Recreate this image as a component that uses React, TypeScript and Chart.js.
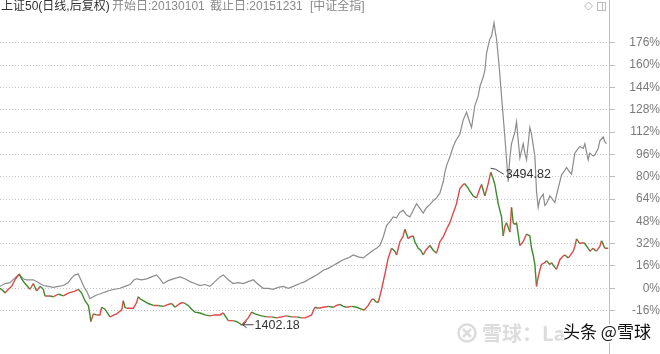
import React, { useEffect, useRef } from "react";
import { Chart, registerables } from "chart.js";

Chart.register(...registerables);

// ---------- text ----------
const TITLE_MAIN = "上证50(日线,后复权)";
const TITLE_START = "开始日:20130101";
const TITLE_END = "截止日:20151231";
const TITLE_CMP = "[中证全指]";
const LOW_LABEL = "1402.18";
const HIGH_LABEL = "3494.82";
const WM_FADED = "雪球：La";
const WM_MAIN = "头条 @雪球";

// ---------- axis ----------
const Y_TICKS = [-16, 0, 16, 32, 48, 64, 80, 96, 112, 128, 144, 160, 176];
const Y_MIN = -35.5;
const Y_MAX = 192.4;
const DAY_MAX = 731;

// ---------- 中证全指 (grey), trading-day index vs % change ----------
const indexDays = [
  0, 6, 12, 18, 23, 28, 32, 40, 46, 52, 58, 64, 70, 76, 82, 86, 90, 94, 97, 101,
  104, 108, 112, 116, 120, 126, 132, 138, 144, 150, 156, 161, 164, 170, 176, 182, 188, 192, 196, 202,
  208, 216, 222, 228, 234, 240, 246, 252, 258, 264, 268, 274, 280, 286, 292, 298, 304, 310, 316, 322,
  328, 334, 340, 346, 352, 360, 366, 372, 376, 382, 388, 394, 400, 406, 412, 418, 424, 430, 436, 442,
  448, 452, 456, 460, 464, 468, 472, 476, 480, 484, 488, 492, 496, 500, 504, 508, 512, 516, 520, 524,
  528, 532, 534, 536, 540, 544, 547, 552, 556, 560, 564, 566, 570, 574, 576, 580, 582, 584, 586, 588,
  590, 593, 595, 596, 599, 602, 606, 610, 612, 614, 618, 620, 624, 628, 630, 632, 636, 638, 642, 644,
  646, 648, 652, 654, 656, 660, 662, 666, 670, 672, 674, 678, 680, 684, 686, 690, 694, 696, 700, 702,
  706, 708, 712, 714, 718, 720, 724, 726, 728,
];
const indexPct = [
  1.4, 3.4, 4.1, 7.5, 10.2, 6.8, 6.1, 6.1, 4.1, 2.0, 1.4, 0.7, 1.4, 2.0, 4.1, 7.5, 9.6, 10.2, 6.1, 0.7,
  -2.0, -7.5, -6.1, -4.8, -4.1, -2.7, -1.4, -0.7, 0, 1.4, 2.7, 6.1, 6.8, 6.1, 6.8, 8.2, 9.6, 6.8, 3.4, 5.5,
  6.8, 8.2, 6.8, 4.8, 3.4, 2.0, 2.7, 1.4, 4.8, 8.2, 9.6, 6.1, 3.4, 4.1, 3.4, 4.8, 6.1, 2.7, 0, 0,
  -0.7, 0.7, 1.4, 0, 1.4, 3.4, 4.8, 6.8, 8.2, 10.2, 13.0, 14.3, 16.4, 18.4, 20.5, 21.8, 23.9, 22.5, 21.8, 24.6,
  27.3, 28.7, 30.7, 36.8, 45.0, 47.8, 51.2, 50.5, 54.6, 55.9, 52.5, 51.2, 55.9, 60.7, 57.3, 53.9, 58.0, 60.0, 62.8, 64.8,
  68.2, 76.4, 83.2, 88.0, 94.2, 101.7, 105.8, 110.5, 120.8, 126.2, 118.7, 115.3, 131.0, 137.8, 144.6, 151.5, 156.2, 168.5, 174.0, 178.8,
  180.8, 190.4, 182.2, 178.8, 160.3, 137.8, 108.5, 76.4, 93.5, 103.7, 111.9, 119.4, 93.5, 103.7, 96.9, 92.1, 115.3, 110.5, 94.8, 69.6,
  58.0, 64.1, 67.5, 59.4, 60.7, 66.2, 64.8, 61.4, 71.6, 76.4, 81.2, 84.6, 86.7, 83.2, 81.9, 96.9, 100.3, 101.7, 100.3, 103.7,
  92.1, 96.9, 94.8, 95.5, 100.3, 105.8, 108.5, 105.1, 103.7,
];

// ---------- 上证50 (red / green), trading-day index vs % change ----------
const sz50Days = [
  0, 4, 6, 10, 14, 18, 23, 26, 30, 36, 40, 44, 48, 52, 54, 60, 64, 70, 76, 82,
  86, 90, 94, 98, 102, 106, 108, 109, 112, 116, 120, 122, 126, 132, 137, 140, 144, 146, 148, 150,
  152, 160, 164, 166, 168, 172, 178, 184, 190, 196, 202, 206, 210, 216, 220, 226, 230, 234, 240, 246,
  252, 258, 264, 268, 271, 274, 280, 284, 288, 290, 294, 298, 302, 306, 310, 314, 320, 326, 332, 338,
  344, 350, 356, 362, 366, 372, 374, 378, 382, 388, 394, 400, 404, 408, 412, 416, 422, 428, 434, 437,
  442, 446, 448, 451, 454, 456, 458, 462, 466, 468, 470, 474, 476, 480, 484, 486, 490, 492, 496, 498,
  502, 505, 508, 511, 516, 520, 524, 528, 532, 536, 540, 544, 546, 548, 552, 556, 558, 562, 564, 568,
  572, 576, 578, 582, 586, 589, 592, 594, 598, 600, 602, 604, 606, 608, 612, 614, 616, 618, 620, 624,
  628, 632, 636, 638, 640, 642, 644, 646, 648, 650, 654, 656, 660, 662, 666, 668, 672, 676, 678, 682,
  684, 688, 690, 692, 696, 700, 702, 706, 708, 712, 714, 716, 720, 722, 726, 730,
];
const sz50Pct = [
  0, -2.0, -3.4, -0.7, 1.4, 6.1, 10.2, 6.8, 3.4, -0.7, 3.4, -2.0, 1.4, -0.7, -5.5, -5.5, -6.1, -4.1, -5.5, -3.4,
  -2.7, -2.0, -0.7, -3.4, -8.9, -12.3, -19.1, -23.9, -18.4, -19.1, -19.1, -13.6, -15.0, -20.5, -19.1, -18.4, -16.4, -15.7, -8.9, -13.6,
  -14.3, -14.3, -10.2, -6.1, -7.5, -8.9, -10.9, -12.3, -12.3, -13.0, -11.6, -10.9, -13.6, -10.9, -10.2, -12.3, -15.0, -17.1, -17.7, -19.1,
  -19.8, -19.1, -19.1, -17.7, -20.5, -23.2, -23.2, -23.9, -25.2, -26.5, -23.9, -21.2, -17.1, -18.4, -19.1, -19.8, -20.5, -20.5, -21.2, -20.5,
  -19.8, -20.5, -20.5, -21.2, -21.2, -19.8, -19.1, -13.6, -14.3, -13.6, -13.0, -13.6, -12.3, -11.6, -13.0, -13.6, -13.0, -13.6, -15.0, -15.7,
  -12.3, -8.2, -7.5, -9.6, -10.2, -5.5, -0.7, 10.2, 21.8, 25.2, 28.7, 26.6, 23.9, 33.4, 37.5, 42.3, 35.5, 36.8, 37.5, 33.4,
  28.7, 27.3, 23.9, 27.3, 30.7, 27.3, 25.2, 33.4, 36.8, 42.3, 47.1, 53.9, 57.3, 60.7, 71.6, 74.4, 75.1, 71.6, 69.6, 66.2,
  64.8, 71.6, 74.4, 66.2, 75.1, 83.2, 78.5, 74.4, 60.7, 55.9, 51.2, 37.5, 44.4, 47.1, 40.3, 58.0, 47.1, 45.7, 47.1, 30.7,
  33.4, 38.9, 37.5, 28.7, 23.9, 17.1, 1.4, 8.2, 13.0, 17.1, 18.4, 19.8, 17.1, 18.4, 15.0, 13.6, 20.5, 23.2, 23.9, 21.8,
  23.2, 26.6, 30.0, 35.5, 32.1, 32.8, 32.1, 28.7, 26.6, 28.7, 27.3, 26.6, 30.0, 34.1, 28.7, 28.7,
];

const RED = "#e24646";
const GREEN = "#3d8a2c";
const GREY = "#8c8c8c";
const FONT = '"Liberation Sans", "Noto Sans CJK SC", sans-serif';

const overlayPlugin = {
  id: "overlay",
  afterDraw(chart: any) {
    const { ctx, chartArea, scales, height } = chart;
    const xs = scales.x;
    const ys = scales.y;
    ctx.save();

    // vertical axis line
    const ax = Math.round(chartArea.right) + 0.5;
    ctx.strokeStyle = "#bdbdbd";
    ctx.lineWidth = 1;
    ctx.beginPath();
    ctx.moveTo(ax, 0);
    ctx.lineTo(ax, height);
    ctx.stroke();

    // title
    ctx.textBaseline = "middle";
    ctx.textAlign = "left";
    ctx.font = "12px " + FONT;
    ctx.fillStyle = "#333";
    ctx.fillText(TITLE_MAIN, 1, 7);
    ctx.fillStyle = "#8a8a8a";
    ctx.fillText(TITLE_START, 112, 7);
    ctx.fillText(TITLE_END, 210, 7);
    ctx.fillText(TITLE_CMP, 310, 7);

    // icons (top-right)
    ctx.strokeStyle = "#bbb";
    ctx.lineWidth = 1;
    ctx.beginPath();
    ctx.moveTo(588.5, 2);
    ctx.lineTo(592.5, 6);
    ctx.lineTo(588.5, 10);
    ctx.lineTo(584.5, 6);
    ctx.closePath();
    ctx.stroke();
    ctx.strokeRect(597.5, 2.5, 8, 8);
    ctx.beginPath();
    ctx.moveTo(602.5, 2.5);
    ctx.lineTo(602.5, 10.5);
    ctx.stroke();

    // low / high annotations
    let iMin = 0;
    let iMax = 0;
    sz50Pct.forEach((v, i) => {
      if (v < sz50Pct[iMin]) iMin = i;
      if (v > sz50Pct[iMax]) iMax = i;
    });
    const lx = xs.getPixelForValue(sz50Days[iMin]);
    const ly = ys.getPixelForValue(sz50Pct[iMin]);
    ctx.strokeStyle = "#444";
    ctx.lineWidth = 1;
    ctx.beginPath();
    ctx.moveTo(lx + 1, ly - 0.5);
    ctx.lineTo(lx + 12, ly - 0.5);
    ctx.moveTo(lx + 1, ly - 0.5);
    ctx.lineTo(lx + 5, ly - 3.5);
    ctx.moveTo(lx + 1, ly - 0.5);
    ctx.lineTo(lx + 5, ly + 2.5);
    ctx.stroke();
    ctx.fillStyle = "#333";
    ctx.font = "12.5px " + FONT;
    ctx.textBaseline = "middle";
    ctx.fillText(LOW_LABEL, lx + 13, ly);

    const hx = xs.getPixelForValue(sz50Days[iMax]);
    const hy = ys.getPixelForValue(sz50Pct[iMax]);
    ctx.beginPath();
    ctx.moveTo(hx, hy - 4);
    ctx.lineTo(hx + 5, hy - 3);
    ctx.lineTo(hx + 13, hy + 2);
    ctx.stroke();
    ctx.fillText(HIGH_LABEL, hx + 15, hy + 2);

    // watermark
    ctx.strokeStyle = "#dcdcdc";
    ctx.lineWidth = 2.5;
    ctx.beginPath();
    ctx.arc(467, 333, 8.5, 0, Math.PI * 2);
    ctx.stroke();
    ctx.beginPath();
    ctx.moveTo(463, 329);
    ctx.lineTo(471, 337);
    ctx.moveTo(471, 329);
    ctx.lineTo(463, 337);
    ctx.stroke();
    ctx.font = 'bold 20px "Noto Sans CJK SC", sans-serif';
    ctx.fillStyle = "#dcdcdc";
    ctx.fillText(WM_FADED, 482, 333);

    ctx.font = '17px "Noto Sans CJK SC", sans-serif';
    ctx.lineWidth = 3;
    ctx.strokeStyle = "rgba(255,255,255,0.9)";
    ctx.strokeText(WM_MAIN, 563, 332);
    ctx.fillStyle = "#111";
    ctx.fillText(WM_MAIN, 563, 332);

    ctx.restore();
  },
};

export default function App() {
  const ref = useRef<HTMLCanvasElement | null>(null);

  useEffect(() => {
    document.body.style.margin = "0";
    const canvas = ref.current;
    if (!canvas) return;
    const chart = new Chart(canvas, {
      type: "line",
      data: {
        datasets: [
          {
            label: "上证50",
            data: sz50Days.map((d, i) => ({ x: d, y: sz50Pct[i] })),
            borderColor: RED,
            borderWidth: 1.4,
            pointRadius: 0,
            tension: 0,
            segment: {
              borderColor: (c: any) => (c.p1.parsed.y >= c.p0.parsed.y ? RED : GREEN),
            },
          },
          {
            label: "中证全指",
            data: indexDays.map((d, i) => ({ x: d, y: indexPct[i] })),
            borderColor: GREY,
            borderWidth: 1.2,
            pointRadius: 0,
            tension: 0,
          },
        ],
      },
      options: {
        responsive: false,
        animation: false,
        events: [],
        layout: { padding: { top: 20, left: 0, right: 0, bottom: 0 } },
        plugins: { legend: { display: false }, tooltip: { enabled: false } },
        scales: {
          x: { type: "linear", display: false, min: 0, max: DAY_MAX },
          y: {
            position: "right",
            min: Y_MIN,
            max: Y_MAX,
            afterBuildTicks: (s: any) => {
              s.ticks = Y_TICKS.map((v) => ({ value: v }));
            },
            afterFit: (s: any) => {
              s.width = 51;
            },
            grid: {
              color: "#c4c4c4",
              lineWidth: 1,
              tickLength: 6,
              tickColor: "#bdbdbd",
              tickBorderDash: [],
              borderDash: [1, 2],
            } as any,
            border: { display: false, dash: [1, 2] },
            ticks: {
              crossAlign: "far",
              padding: 9,
              color: "#7a7a7a",
              font: { family: FONT, size: 12 },
              callback: (v: any) => v + "%",
            },
          },
        },
      },
      plugins: [overlayPlugin],
    } as any);
    return () => chart.destroy();
  }, []);

  return <canvas ref={ref} width={660} height={354} style={{ display: "block" }} />;
}
